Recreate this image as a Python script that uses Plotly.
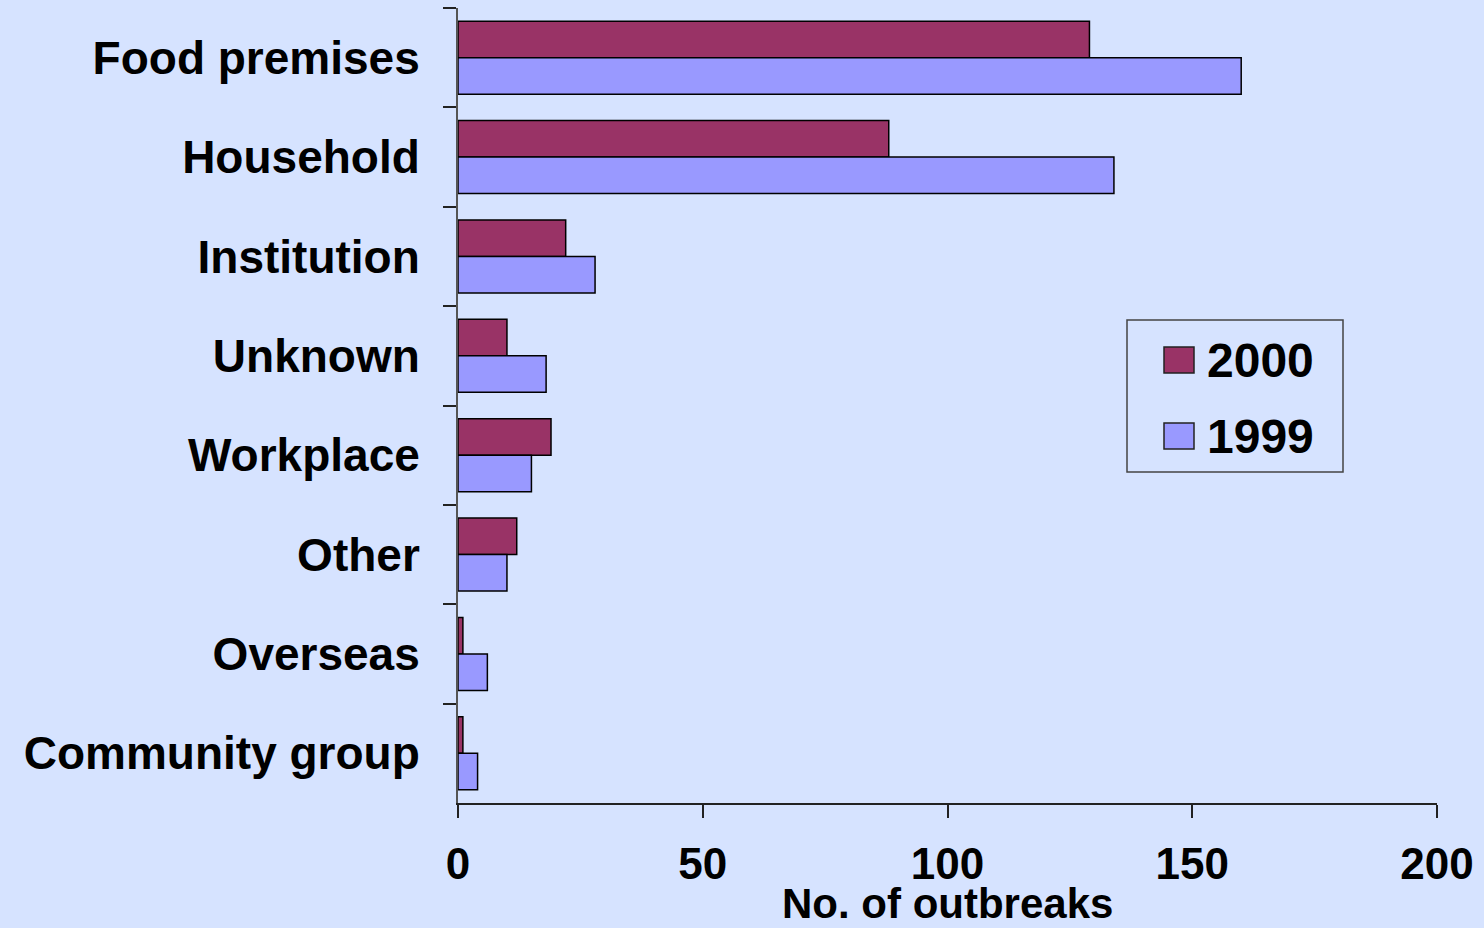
import plotly.graph_objects as go

# Outbreak settings, top to bottom
settings = ["Food premises", "Household", "Institution", "Unknown",
            "Workplace", "Other", "Overseas", "Community group"]
outbreaks_2000 = [129, 88, 22, 10, 19, 12, 1, 1]
outbreaks_1999 = [160, 134, 28, 18, 15, 10, 6, 4]
years = ["2000", "1999"]
x_ticks = [0, 50, 100, 150, 200]

BG = "#D6E3FF"
COL_2000 = "#993366"
COL_1999 = "#9999FF"
FONT = "Liberation Sans, Arial, sans-serif"
W, H = 1484, 928
ML, MR, MT, MB = 458, 47, 8, 125

fig = go.Figure()
for name, vals, col in [(years[0], outbreaks_2000, COL_2000),
                        (years[1], outbreaks_1999, COL_1999)]:
    fig.add_trace(go.Bar(
        y=settings, x=vals, name=name, orientation="h",
        marker=dict(color=col, line=dict(color="#000000", width=1.5)),
        showlegend=False,
    ))

fig.update_layout(
    width=W, height=H,
    margin=dict(l=ML, r=MR, t=MT, b=MB, pad=0),
    paper_bgcolor=BG, plot_bgcolor=BG,
    barmode="group", bargap=0.265, bargroupgap=0,
    font=dict(family=FONT, color="#000000", size=46, weight="bold"),
)

fig.update_xaxes(
    range=[0, 200], tickvals=x_ticks, ticktext=[str(v) for v in x_ticks],
    showgrid=False, zeroline=False, showline=True, linecolor="#222222", linewidth=1.5,
    ticks="outside", ticklen=13, tickwidth=1.5, tickcolor="#222222",
    tickfont=dict(family=FONT, size=44, weight="bold"),
    ticklabelstandoff=8,
)
fig.update_yaxes(
    categoryorder="array", categoryarray=settings, autorange="reversed",
    showgrid=False, zeroline=False, showline=True, linecolor="#555555", linewidth=2,
    ticks="outside", tickson="boundaries", ticklen=13, tickwidth=1.5, tickcolor="#222222",
    tickfont=dict(family=FONT, size=46, weight="bold"),
    ticklabelstandoff=27,
)

# Axis title, kept inside the bottom edge
fig.add_annotation(
    xref="paper", yref="paper", x=0.5, y=-(928 - (H - MB)) / (H - MT - MB),
    text="No. of outbreaks", showarrow=False, xanchor="center", yanchor="bottom",
    borderpad=0, font=dict(family=FONT, size=42, weight="bold"),
)

# Legend box
pw, ph = W - ML - MR, H - MT - MB
def px(xp):
    return (xp - ML) / pw
def py(yp):
    return 1 - (yp - MT) / ph

fig.add_shape(type="rect", xref="paper", yref="paper",
              x0=px(1127), x1=px(1343), y0=py(472), y1=py(320),
              line=dict(color="#444444", width=1.5), fillcolor=BG, layer="above")
for i, (name, col) in enumerate([(years[0], COL_2000), (years[1], COL_1999)]):
    yc = 360 + i * 76
    fig.add_shape(type="rect", xref="paper", yref="paper",
                  x0=px(1164), x1=px(1194), y0=py(yc + 13), y1=py(yc - 13),
                  line=dict(color="#222222", width=1.5), fillcolor=col, layer="above")
    fig.add_annotation(xref="paper", yref="paper", x=px(1205), y=py(yc),
                       text=name, showarrow=False, xanchor="left", yanchor="middle",
                       font=dict(family=FONT, size=48, weight="bold"))

fig.write_html("out.html")
